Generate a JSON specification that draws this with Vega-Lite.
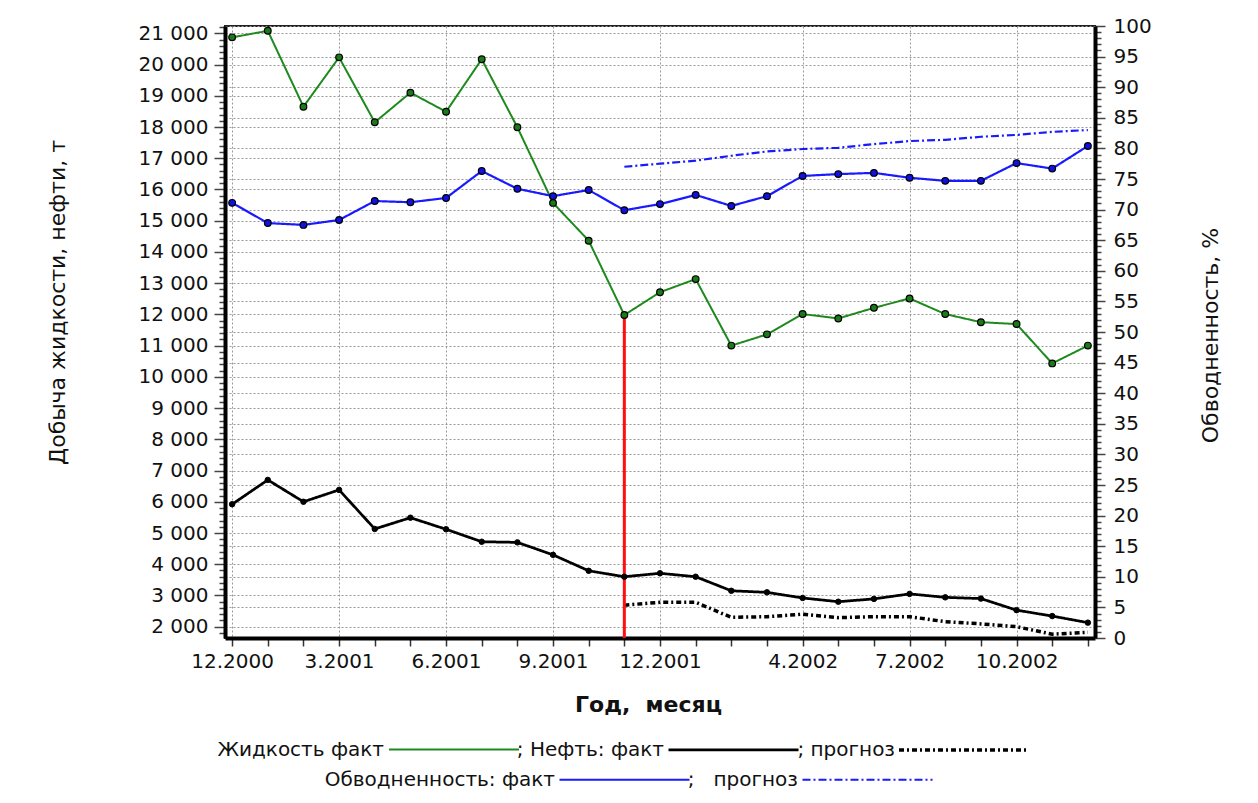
{
  "$schema": "https://vega.github.io/schema/vega-lite/v6.json",
  "autosize": {"type": "none"},
  "padding": {"left": 225, "top": 26, "right": 163, "bottom": 165},
  "width": 870,
  "height": 612,
  "background": "white",
  "config": {"font": "DejaVu Sans", "view": {"stroke": "#222", "strokeWidth": 2}},
  "datasets": {
    "left": [
      {"month": "12.2000", "series": "Жидкость факт", "v": 20870},
      {"month": "1.2001", "series": "Жидкость факт", "v": 21080},
      {"month": "2.2001", "series": "Жидкость факт", "v": 18650},
      {"month": "3.2001", "series": "Жидкость факт", "v": 20230},
      {"month": "4.2001", "series": "Жидкость факт", "v": 18150},
      {"month": "5.2001", "series": "Жидкость факт", "v": 19100},
      {"month": "6.2001", "series": "Жидкость факт", "v": 18490},
      {"month": "7.2001", "series": "Жидкость факт", "v": 20170},
      {"month": "8.2001", "series": "Жидкость факт", "v": 17990},
      {"month": "9.2001", "series": "Жидкость факт", "v": 15570},
      {"month": "10.2001", "series": "Жидкость факт", "v": 14360},
      {"month": "11.2001", "series": "Жидкость факт", "v": 11980},
      {"month": "12.2001", "series": "Жидкость факт", "v": 12710},
      {"month": "1.2002", "series": "Жидкость факт", "v": 13130},
      {"month": "2.2002", "series": "Жидкость факт", "v": 11000},
      {"month": "3.2002", "series": "Жидкость факт", "v": 11360},
      {"month": "4.2002", "series": "Жидкость факт", "v": 12010},
      {"month": "5.2002", "series": "Жидкость факт", "v": 11870},
      {"month": "6.2002", "series": "Жидкость факт", "v": 12210},
      {"month": "7.2002", "series": "Жидкость факт", "v": 12510},
      {"month": "8.2002", "series": "Жидкость факт", "v": 12010},
      {"month": "9.2002", "series": "Жидкость факт", "v": 11750},
      {"month": "10.2002", "series": "Жидкость факт", "v": 11690},
      {"month": "11.2002", "series": "Жидкость факт", "v": 10430},
      {"month": "12.2002", "series": "Жидкость факт", "v": 11000},
      {"month": "12.2000", "series": "Нефть: факт", "v": 5920},
      {"month": "1.2001", "series": "Нефть: факт", "v": 6700},
      {"month": "2.2001", "series": "Нефть: факт", "v": 6000},
      {"month": "3.2001", "series": "Нефть: факт", "v": 6380},
      {"month": "4.2001", "series": "Нефть: факт", "v": 5130},
      {"month": "5.2001", "series": "Нефть: факт", "v": 5490},
      {"month": "6.2001", "series": "Нефть: факт", "v": 5120},
      {"month": "7.2001", "series": "Нефть: факт", "v": 4720},
      {"month": "8.2001", "series": "Нефть: факт", "v": 4700},
      {"month": "9.2001", "series": "Нефть: факт", "v": 4300},
      {"month": "10.2001", "series": "Нефть: факт", "v": 3790},
      {"month": "11.2001", "series": "Нефть: факт", "v": 3600},
      {"month": "12.2001", "series": "Нефть: факт", "v": 3710},
      {"month": "1.2002", "series": "Нефть: факт", "v": 3600},
      {"month": "2.2002", "series": "Нефть: факт", "v": 3150},
      {"month": "3.2002", "series": "Нефть: факт", "v": 3100},
      {"month": "4.2002", "series": "Нефть: факт", "v": 2920},
      {"month": "5.2002", "series": "Нефть: факт", "v": 2800},
      {"month": "6.2002", "series": "Нефть: факт", "v": 2890},
      {"month": "7.2002", "series": "Нефть: факт", "v": 3050},
      {"month": "8.2002", "series": "Нефть: факт", "v": 2940},
      {"month": "9.2002", "series": "Нефть: факт", "v": 2900},
      {"month": "10.2002", "series": "Нефть: факт", "v": 2530},
      {"month": "11.2002", "series": "Нефть: факт", "v": 2340},
      {"month": "12.2002", "series": "Нефть: факт", "v": 2130},
      {"month": "11.2001", "series": "прогноз", "v": 2690},
      {"month": "12.2001", "series": "прогноз", "v": 2780},
      {"month": "1.2002", "series": "прогноз", "v": 2780},
      {"month": "2.2002", "series": "прогноз", "v": 2300},
      {"month": "3.2002", "series": "прогноз", "v": 2320},
      {"month": "4.2002", "series": "прогноз", "v": 2400},
      {"month": "5.2002", "series": "прогноз", "v": 2290},
      {"month": "6.2002", "series": "прогноз", "v": 2320},
      {"month": "7.2002", "series": "прогноз", "v": 2320},
      {"month": "8.2002", "series": "прогноз", "v": 2160},
      {"month": "9.2002", "series": "прогноз", "v": 2090},
      {"month": "10.2002", "series": "прогноз", "v": 2000},
      {"month": "11.2002", "series": "прогноз", "v": 1760},
      {"month": "12.2002", "series": "прогноз", "v": 1820}
    ],
    "right": [
      {"month": "12.2000", "series": "Обводненность: факт", "v": 71.1},
      {"month": "1.2001", "series": "Обводненность: факт", "v": 67.8},
      {"month": "2.2001", "series": "Обводненность: факт", "v": 67.5},
      {"month": "3.2001", "series": "Обводненность: факт", "v": 68.3},
      {"month": "4.2001", "series": "Обводненность: факт", "v": 71.4},
      {"month": "5.2001", "series": "Обводненность: факт", "v": 71.2},
      {"month": "6.2001", "series": "Обводненность: факт", "v": 71.9},
      {"month": "7.2001", "series": "Обводненность: факт", "v": 76.3},
      {"month": "8.2001", "series": "Обводненность: факт", "v": 73.4},
      {"month": "9.2001", "series": "Обводненность: факт", "v": 72.2},
      {"month": "10.2001", "series": "Обводненность: факт", "v": 73.2},
      {"month": "11.2001", "series": "Обводненность: факт", "v": 69.9},
      {"month": "12.2001", "series": "Обводненность: факт", "v": 70.9},
      {"month": "1.2002", "series": "Обводненность: факт", "v": 72.4},
      {"month": "2.2002", "series": "Обводненность: факт", "v": 70.6},
      {"month": "3.2002", "series": "Обводненность: факт", "v": 72.2},
      {"month": "4.2002", "series": "Обводненность: факт", "v": 75.5},
      {"month": "5.2002", "series": "Обводненность: факт", "v": 75.8},
      {"month": "6.2002", "series": "Обводненность: факт", "v": 76.0},
      {"month": "7.2002", "series": "Обводненность: факт", "v": 75.2},
      {"month": "8.2002", "series": "Обводненность: факт", "v": 74.7},
      {"month": "9.2002", "series": "Обводненность: факт", "v": 74.7},
      {"month": "10.2002", "series": "Обводненность: факт", "v": 77.6},
      {"month": "11.2002", "series": "Обводненность: факт", "v": 76.7},
      {"month": "12.2002", "series": "Обводненность: факт", "v": 80.4},
      {"month": "11.2001", "series": "прогноз", "v": 77.0},
      {"month": "12.2001", "series": "прогноз", "v": 77.5},
      {"month": "1.2002", "series": "прогноз", "v": 78.0},
      {"month": "2.2002", "series": "прогноз", "v": 78.8},
      {"month": "3.2002", "series": "прогноз", "v": 79.5},
      {"month": "4.2002", "series": "прогноз", "v": 79.9},
      {"month": "5.2002", "series": "прогноз", "v": 80.1},
      {"month": "6.2002", "series": "прогноз", "v": 80.7},
      {"month": "7.2002", "series": "прогноз", "v": 81.2},
      {"month": "8.2002", "series": "прогноз", "v": 81.4},
      {"month": "9.2002", "series": "прогноз", "v": 81.9},
      {"month": "10.2002", "series": "прогноз", "v": 82.2},
      {"month": "11.2002", "series": "прогноз", "v": 82.7},
      {"month": "12.2002", "series": "прогноз", "v": 83.0}
    ]
  },
  "encoding": {
    "x": {
      "field": "month",
      "type": "nominal",
      "scale": {
        "type": "point",
        "padding": 0.2,
        "domain": ["12.2000","1.2001","2.2001","3.2001","4.2001","5.2001","6.2001","7.2001","8.2001","9.2001","10.2001","11.2001","12.2001","1.2002","2.2002","3.2002","4.2002","5.2002","6.2002","7.2002","8.2002","9.2002","10.2002","11.2002","12.2002"]
      },
      "axis": {
        "title": "Год,\u00a0 месяц",
        "titleFontSize": 22,
        "titleFontWeight": "bold",
        "titleColor": "#111",
        "titleX": 423,
        "titleY": 66,
        "titleAlign": "center",
        "titleBaseline": "middle",
        "labelExpr": "indexof(['12.2000','3.2001','6.2001','9.2001','12.2001','4.2002','7.2002','10.2002'], datum.value) >= 0 ? datum.value : ''",
        "labelFontSize": 20,
        "labelColor": "#111",
        "labelPadding": 5,
        "labelAngle": 0,
        "labelOverlap": false,
        "tickSize": 8,
        "tickColor": "#333",
        "tickWidth": 1.5,
        "domainColor": "#000",
        "domainWidth": 4,
        "grid": true,
        "gridColor": "#999",
        "gridDash": [2, 2],
        "gridOpacity": {"condition": {"test": "indexof(['12.2000','3.2001','6.2001','9.2001','12.2001','4.2002','7.2002','10.2002'], datum.value) >= 0", "value": 1}, "value": 0}
      }
    }
  },
  "layer": [
    {
      "data": {"name": "left"},
      "encoding": {
        "y": {
          "field": "v",
          "type": "quantitative",
          "scale": {"domain": [1638, 21234], "nice": false, "zero": false},
          "axis": {
            "orient": "left",
            "title": "Добыча жидкости, нефти, т",
            "titleFontSize": 22,
            "titleFontWeight": "normal",
            "titleColor": "#111",
            "titleX": -168,
            "titleY": 276,
            "titleAngle": -90,
            "titleAlign": "center",
            "titleBaseline": "middle",
            "tickCount": 98,
            "labelExpr": "datum.value % 1000 === 0 ? replace(format(datum.value, ','), ',', ' ') : ''",
            "labelFontSize": 20,
            "labelColor": "#111",
            "labelPadding": 6,
            "labelOverlap": false,
            "tickSize": {"condition": {"test": "datum.value % 1000 === 0", "value": 11}, "value": 6},
            "tickColor": "#444",
            "tickWidth": 1.5,
            "domainColor": "#000",
            "domainWidth": 4,
            "grid": true,
            "gridColor": "#999",
            "gridDash": [2, 2],
            "gridOpacity": {"condition": {"test": "datum.value % 1000 === 0", "value": 1}, "value": 0}
          }
        }
      },
      "layer": [
        {
          "mark": {"type": "line"},
          "encoding": {
            "order": {"value": null},
            "color": {
              "field": "series",
              "type": "nominal",
              "scale": {"domain": ["Жидкость факт", "Нефть: факт", "прогноз"], "range": ["#1e8a1e", "#000000", "#000000"]},
              "legend": {
                "orient": "none",
                "legendX": 163,
                "legendY": 657,
                "direction": "horizontal",
                "title": null,
                "symbolType": "stroke",
                "symbolSize": 16900,
                "labelFontSize": 20,
                "labelColor": "#111",
                "labelLimit": 400,
                "labelAlign": "right",
                "labelOffset": -136,
                "columnPadding": -7,
                "labelExpr": "datum.label === 'Жидкость факт' ? datum.label : '; ' + datum.label"
              }
            },
            "strokeDash": {
              "field": "series",
              "type": "nominal",
              "scale": {"domain": ["Жидкость факт", "Нефть: факт", "прогноз"], "range": [[1, 0], [1, 0], [5, 3, 2, 3]]}
            },
            "strokeWidth": {
              "field": "series",
              "type": "nominal",
              "scale": {"domain": ["Жидкость факт", "Нефть: факт", "прогноз"], "range": [2, 3.5, 1]}
            }
          }
        },
        {
          "transform": [{"filter": "datum.month === '11.2001' && datum.series === 'Жидкость факт'"}],
          "mark": {"type": "rule", "color": "#ff1010", "strokeWidth": 3},
          "encoding": {}
        },
        {
          "transform": [{"filter": "datum.series === 'Жидкость факт'"}],
          "mark": {"type": "point", "filled": true, "fill": "#1a7a1a", "stroke": "#000", "strokeWidth": 1.2, "size": 45, "opacity": 1},
          "encoding": {}
        },
        {
          "transform": [{"filter": "datum.series === 'Нефть: факт'"}],
          "mark": {"type": "point", "filled": true, "fill": "#000", "stroke": "#000", "strokeWidth": 1, "size": 30, "opacity": 1},
          "encoding": {}
        }
      ]
    },
    {
      "data": {"name": "right"},
      "encoding": {
        "y": {
          "field": "v",
          "type": "quantitative",
          "scale": {"domain": [0, 100], "nice": false, "zero": false},
          "axis": {
            "orient": "right",
            "title": "Обводненность, %",
            "titleFontSize": 22,
            "titleFontWeight": "normal",
            "titleColor": "#111",
            "titleX": 115,
            "titleY": 309,
            "titleAngle": 270,
            "titleAlign": "center",
            "titleBaseline": "middle",
            "tickCount": 100,
            "labelExpr": "datum.value % 5 === 0 ? datum.label : ''",
            "labelFontSize": 20,
            "labelColor": "#111",
            "labelPadding": 8,
            "labelOverlap": false,
            "tickSize": {"condition": {"test": "datum.value % 5 === 0", "value": 10}, "value": 6},
            "tickColor": "#444",
            "tickWidth": 1.5,
            "domainColor": "#000",
            "domainWidth": 4,
            "grid": true,
            "gridColor": "#999",
            "gridDash": [2, 2],
            "gridOpacity": {"condition": {"test": "datum.value % 5 === 0", "value": 1}, "value": 0}
          }
        }
      },
      "layer": [
        {
          "mark": {"type": "line"},
          "encoding": {
            "order": {"value": null},
            "color": {
              "field": "series",
              "type": "nominal",
              "scale": {"domain": ["Обводненность: факт", "прогноз"], "range": ["#1a1aff", "#1a1aff"]},
              "legend": {
                "orient": "none",
                "legendX": 333,
                "legendY": 687,
                "direction": "horizontal",
                "title": null,
                "symbolType": "stroke",
                "symbolSize": 16900,
                "labelFontSize": 20,
                "labelColor": "#111",
                "labelLimit": 400,
                "labelAlign": "right",
                "labelOffset": -136,
                "columnPadding": -7,
                "labelExpr": "datum.label === 'прогноз' ? ';\u00a0\u00a0 ' + datum.label : datum.label"
              }
            },
            "strokeDash": {
              "field": "series",
              "type": "nominal",
              "scale": {"domain": ["Обводненность: факт", "прогноз"], "range": [[1, 0], [8, 3, 2, 3]]}
            },
            "strokeWidth": {
              "field": "series",
              "type": "nominal",
              "scale": {"domain": ["Обводненность: факт", "прогноз"], "range": [2.2, 2.2]}
            }
          }
        },
        {
          "transform": [{"filter": "datum.series === 'Обводненность: факт'"}],
          "mark": {"type": "point", "filled": true, "fill": "#1010e0", "stroke": "#000", "strokeWidth": 1.2, "size": 45, "opacity": 1},
          "encoding": {}
        }
      ]
    }
  ],
  "resolve": {"scale": {"y": "independent", "color": "independent", "strokeDash": "independent", "strokeWidth": "independent"}}
}
